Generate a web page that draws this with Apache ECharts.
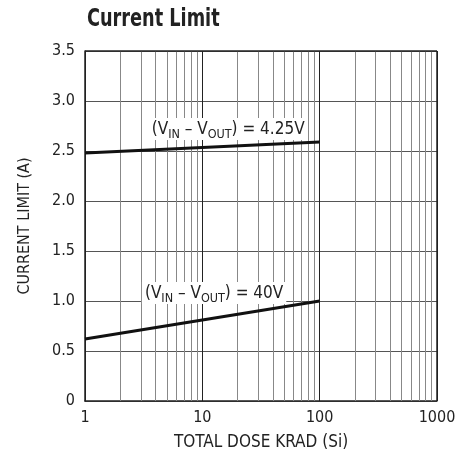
<!DOCTYPE html>
<html><head><meta charset="utf-8">
<script src="https://cdn.jsdelivr.net/npm/echarts@6/dist/echarts.min.js"></script>
<style>html,body{margin:0;padding:0;background:#fff}#c{width:472px;height:458px}</style>
</head><body><div id="c"></div>
<script>
var dose = [1, 100];
var limit425 = [2.48, 2.59];
var limit40 = [0.62, 1.0];
var minorGrid = [2,3,4,5,6,7,8,9,20,30,40,50,60,70,80,90,200,300,400,500,600,700,800,900];
var yTicks = [0, 0.5, 1.0, 1.5, 2.0, 2.5, 3.0, 3.5];
var label1 = {x: 16.6, y: 2.72, tag: '4.25V'};
var label2 = {x: 12.6, y: 1.08, tag: '40V'};

var FONT = '"DejaVu Sans Condensed", "Liberation Sans Narrow", sans-serif';
var rich = {
  n: {fontFamily: FONT, fontSize: 17, color: '#222', lineHeight: 19, verticalAlign: 'bottom'},
  s: {fontFamily: FONT, fontSize: 12.5, color: '#222', lineHeight: 14, verticalAlign: 'bottom', padding: [0,0,-3,0]}
};
function lbl(t){ return '{n|(V}{s|IN}{n| – V}{s|OUT}{n|) = ' + t + '}'; }

var chart = echarts.init(document.getElementById('c'), null, {renderer: 'canvas'});
chart.setOption({
  animation: false,
  backgroundColor: '#fff',
  graphic: [{type: 'text', left: 87, top: 8, scaleX: 0.82,
    style: {text: 'Current Limit', font: 'bold 24px "DejaVu Sans Condensed", sans-serif', fill: '#222'}}],
  grid: {left: 85, right: 35, top: 51, bottom: 57, containLabel: false},
  xAxis: {type: 'log', min: 1, max: 1000, logBase: 10,
    name: 'TOTAL DOSE KRAD (Si)', nameLocation: 'middle', nameGap: 33,
    nameTextStyle: {fontFamily: FONT, fontSize: 17, color: '#222'},
    axisLine: {show: true, lineStyle: {color: '#222', width: 1.5}},
    axisTick: {show: false},
    axisLabel: {fontFamily: FONT, fontSize: 16, color: '#222', margin: 9,
      formatter: function(v){ return String(Math.round(v)); }},
    splitLine: {show: true, lineStyle: {color: '#222', width: 1}}
  },
  yAxis: {type: 'value', min: 0, max: 3.5, interval: 0.5,
    name: 'CURRENT LIMIT (A)', nameLocation: 'middle', nameGap: 52, nameRotate: 90,
    nameTextStyle: {fontFamily: FONT, fontSize: 16, color: '#222'},
    axisLine: {show: true, lineStyle: {color: '#222', width: 1.5}},
    axisTick: {show: false},
    axisLabel: {fontFamily: FONT, fontSize: 16, color: '#222', margin: 10,
      formatter: function(v){ return v === 0 ? '0' : v.toFixed(1); }},
    splitLine: {show: true, lineStyle: {color: '#555', width: 1}}
  },
  series: [
    {type: 'line', silent: true, data: [], symbol: 'none',
     markLine: {silent: true, symbol: 'none', animation: false,
       label: {show: false},
       lineStyle: {color: '#888', width: 1, type: 'solid'},
       data: minorGrid.map(function(v){ return {xAxis: v}; })}},
    {type: 'line', silent: true, data: [], symbol: 'none',
     markLine: {silent: true, symbol: 'none', animation: false,
       label: {show: false},
       lineStyle: {color: '#222', width: 1.5, type: 'solid'},
       data: [{yAxis: 3.5}, {xAxis: 1000}]}},
    {type: 'line', data: dose.map(function(d,i){return [d, limit425[i]];}),
     symbol: 'none', lineStyle: {color: '#111', width: 3}, z: 5,
     markPoint: {symbol: 'rect', symbolSize: 0, silent: true,
       data: [{coord: [label1.x, label1.y],
         label: {show: true, position: 'inside', formatter: lbl(label1.tag), rich: rich,
           backgroundColor: '#fff', padding: [1, 3, 2, 3]}}]}},
    {type: 'line', data: dose.map(function(d,i){return [d, limit40[i]];}),
     symbol: 'none', lineStyle: {color: '#111', width: 3}, z: 5,
     markPoint: {symbol: 'rect', symbolSize: 0, silent: true,
       data: [{coord: [label2.x, label2.y],
         label: {show: true, position: 'inside', formatter: lbl(label2.tag), rich: rich,
           backgroundColor: '#fff', padding: [1, 3, 2, 3]}}]}}
  ]
});
</script>
</body></html>
